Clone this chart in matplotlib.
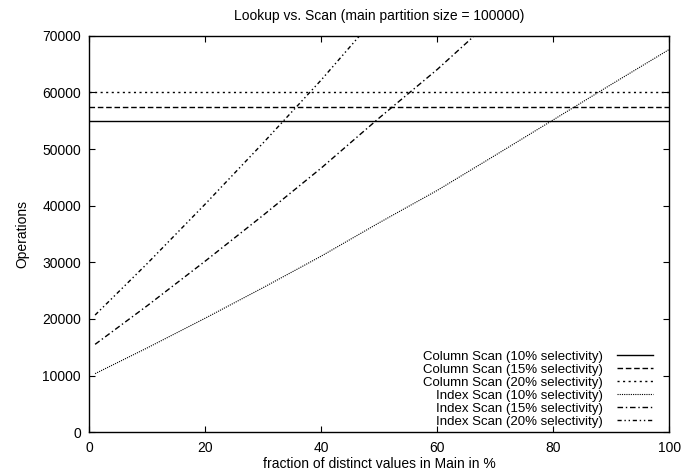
import matplotlib
matplotlib.use("Agg")
import matplotlib.pyplot as plt

plt.rcParams['font.family'] = ['Liberation Sans', 'DejaVu Sans']
plt.rcParams['font.size'] = 10

# fraction of distinct values in main (%)
x = [1, 10, 20, 30, 40, 50, 60, 70, 80, 90, 100]

# column scan costs (constant)
col10 = 55000
col15 = 57500
col20 = 60000

# index scan costs
idx10 = [10350, 14900, 20150, 25550, 31100, 37000, 42700, 48900, 55150, 61400, 67580]
idx15 = [15525, 22350, 30225, 38325, 46650, 55500, 64050, 73350, 82725, 92100, 101370]
idx20 = [20700, 29800, 40300, 51100, 62200, 74000, 85400, 97800, 110300, 122800, 135160]

fig = plt.figure(figsize=(6.94, 4.74), dpi=100)
ax = fig.add_axes([0.1287, 0.088, 0.8357, 0.8367])

ax.plot([0, 100], [col10, col10], color='black', lw=1.0, ls='-',
        label='Column Scan (10% selectivity)')
ax.plot([0, 100], [col15, col15], color='black', lw=1.0, ls=(0, (4, 2)),
        label='Column Scan (15% selectivity)')
ax.plot([0, 100], [col20, col20], color='black', lw=1.0, ls=(0, (1.5, 2.5)),
        label='Column Scan (20% selectivity)')
ax.plot(x, idx10, color='black', lw=0.8, ls=(0, (1, 1)),
        label='Index Scan (10% selectivity)')
ax.plot(x, idx15, color='black', lw=1.0, ls=(0, (4, 2, 1, 2)),
        label='Index Scan (15% selectivity)')
ax.plot(x, idx20, color='black', lw=1.0, ls=(0, (3, 2, 1, 2, 1, 2)),
        label='Index Scan (20% selectivity)')

ax.set_xlim(0, 100)
ax.set_ylim(0, 70000)
ax.set_xticks(range(0, 101, 20))
ax.set_yticks(range(0, 70001, 10000))
ax.tick_params(direction='in', length=4.5, width=0.8, top=True, right=True,
               pad=6, labelsize=10)
for s in ax.spines.values():
    s.set_linewidth(1.0)

ax.set_title('Lookup vs. Scan (main partition size = 100000)', fontsize=10, pad=11)
ax.set_xlabel('fraction of distinct values in Main in %', labelpad=2)
ax.set_ylabel('Operations', labelpad=9)

leg = ax.legend(loc='lower right', bbox_to_anchor=(0.972, 0.012), frameon=False,
                markerfirst=False, borderaxespad=0, borderpad=0,
                labelspacing=0.05, handlelength=2.7, handletextpad=1.1,
                fontsize=9.5)

fig.savefig('out.png', dpi=100)
